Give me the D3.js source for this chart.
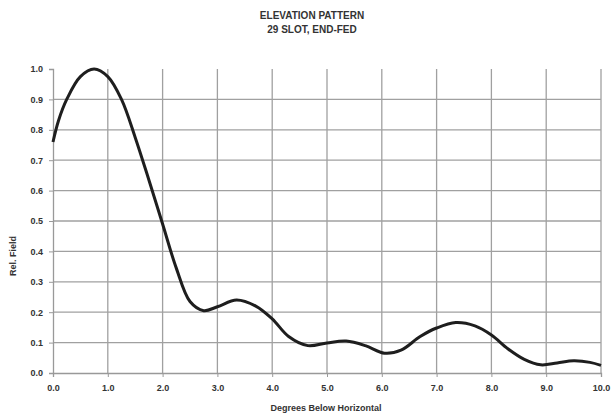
<!DOCTYPE html>
<html>
<head>
<meta charset="utf-8">
<script src="https://cdn.jsdelivr.net/npm/d3@7"></script>
<style>
    body { margin: 0; background: #fff; }
    text { font-family: "Liberation Sans", Arial, sans-serif; font-weight: bold; fill: #333; }
</style>
</head>
<body>
<div id="chart"></div>
<script>
// Degrees below horizontal and relative field
var degrees = [0, 0.1, 0.25, 0.5, 0.75, 1.0, 1.25, 1.5, 1.75, 2.0, 2.25, 2.5, 2.75, 3.0, 3.35, 3.7, 4.0, 4.3,
    4.65, 5.0, 5.35, 5.7, 6.05, 6.35, 6.7, 7.0, 7.35, 7.7, 8.0, 8.3, 8.6, 8.9, 9.2, 9.5, 9.8, 10.0];
var relField = [0.76, 0.83, 0.9, 0.975, 1.0, 0.975, 0.9, 0.775, 0.635, 0.49, 0.345, 0.235, 0.205, 0.218, 0.24, 0.22, 0.178, 0.12,
    0.09, 0.099, 0.105, 0.09, 0.065, 0.075, 0.12, 0.148, 0.166, 0.155, 0.125, 0.08, 0.045, 0.027, 0.033, 0.04, 0.035, 0.025];
var xTicks = [0, 1, 2, 3, 4, 5, 6, 7, 8, 9, 10];
var yTicks = [0, 0.1, 0.2, 0.3, 0.4, 0.5, 0.6, 0.7, 0.8, 0.9, 1.0];
var titleLines = ["ELEVATION PATTERN", "29 SLOT, END-FED"];

var width = 613, height = 416;
var margin = {top: 69, right: 12, bottom: 43, left: 53};

var svg = d3.select("#chart").append("svg")
    .attr("width", width)
    .attr("height", height);

var x = d3.scaleLinear().domain([0, 10]).range([margin.left, width - margin.right]);
var y = d3.scaleLinear().domain([0, 1]).range([height - margin.bottom, margin.top]);

// grid
svg.append("g").selectAll("line.h")
    .data(yTicks.filter(function(d) { return d > 0 && d < 1; }))
    .enter().append("line")
    .attr("x1", x(0)).attr("x2", x(10))
    .attr("y1", function(d) { return y(d); })
    .attr("y2", function(d) { return y(d); })
    .attr("stroke", "#a0a0a0").attr("stroke-width", 1.3);

svg.append("g").selectAll("line.v")
    .data(xTicks.filter(function(d) { return d > 0; }))
    .enter().append("line")
    .attr("x1", function(d) { return x(d); })
    .attr("x2", function(d) { return x(d); })
    .attr("y1", y(1)).attr("y2", y(0))
    .attr("stroke", "#a0a0a0").attr("stroke-width", 1.3);

// axes
var xAxis = svg.append("g")
    .attr("transform", "translate(0," + y(0) + ")")
    .call(d3.axisBottom(x).tickValues(xTicks).tickSize(4).tickPadding(8)
        .tickFormat(d3.format(".1f")));
var yAxis = svg.append("g")
    .attr("transform", "translate(" + x(0) + ",0)")
    .call(d3.axisLeft(y).tickValues(yTicks).tickSize(4).tickPadding(6)
        .tickFormat(d3.format(".1f")));

[xAxis, yAxis].forEach(function(a) {
    a.select(".domain").attr("stroke", "#999").attr("stroke-width", 1.3);
    a.selectAll(".tick line").attr("stroke", "#999");
    a.selectAll("text").style("font-size", "9px").attr("fill", "#333");
});

// curve
var line = d3.line()
    .x(function(d, i) { return x(degrees[i]); })
    .y(function(d) { return y(d); })
    .curve(d3.curveCatmullRom.alpha(0.5));

svg.append("path")
    .datum(relField)
    .attr("d", line)
    .attr("fill", "none")
    .attr("stroke", "#1e1e1e")
    .attr("stroke-width", 3);

// titles
svg.selectAll("text.title")
    .data(titleLines)
    .enter().append("text")
    .attr("class", "title")
    .attr("x", 312)
    .attr("y", function(d, i) { return 19 + i * 14; })
    .attr("text-anchor", "middle")
    .style("font-size", "10px")
    .text(function(d) { return d; });

svg.append("text")
    .attr("x", 326)
    .attr("y", 411)
    .attr("text-anchor", "middle")
    .style("font-size", "9px")
    .text("Degrees Below Horizontal");

svg.append("text")
    .attr("transform", "translate(16," + 256 + ") rotate(-90)")
    .attr("text-anchor", "middle")
    .style("font-size", "9px")
    .text("Rel. Field");
</script>
</body>
</html>
